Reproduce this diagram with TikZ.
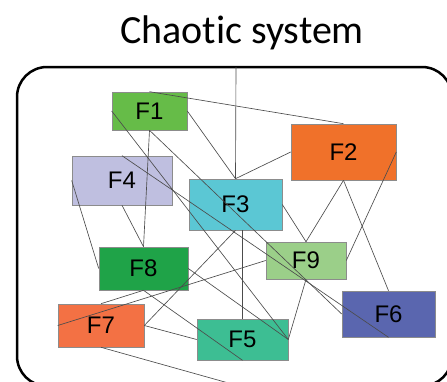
\documentclass[tikz,border=0pt]{standalone}
\usepackage{fontspec}
\setmainfont{Liberation Sans}
\newfontfamily\titlefont[Ligatures=NoCommon]{Carlito}
\definecolor{cF1}{HTML}{66BC48}
\definecolor{cF2}{HTML}{F0712A}
\definecolor{cF3}{HTML}{5BC7D4}
\definecolor{cF4}{HTML}{BFBFE0}
\definecolor{cF5}{HTML}{3DBE93}
\definecolor{cF6}{HTML}{5A66AF}
\definecolor{cF7}{HTML}{F37144}
\definecolor{cF8}{HTML}{1FA348}
\definecolor{cF9}{HTML}{9BCF89}
\begin{document}
\begin{tikzpicture}[x=1pt,y=-1pt,
  box/.style={draw=black!45, line width=0.6pt, inner sep=0pt, font=\fontsize{24}{24}\selectfont},
  link/.style={draw=black!70, line width=0.65pt},
  frame/.style={draw=black, line width=2.5pt, rounded corners=30pt}]
\useasboundingbox (0,0) rectangle (447,381);
\node[font=\titlefont\fontsize{40}{40}\selectfont, anchor=base] (title) at (242,43) {Chaotic system};
\draw[frame] (17,67) rectangle (452,386);
\coordinate (topin) at (236,67);
\coordinate (offbottom) at (232,384);
\node[box, fill=cF1, minimum width=75pt, minimum height=38pt] (F1) at (149.5,111) {F1};
\node[box, fill=cF2, minimum width=105pt, minimum height=56pt] (F2) at (343.5,152) {F2};
\node[box, fill=cF3, minimum width=93pt, minimum height=51pt] (F3) at (235.5,204.5) {F3};
\node[box, fill=cF4, minimum width=100pt, minimum height=49pt] (F4) at (122,180.5) {F4};
\node[box, fill=cF5, minimum width=91pt, minimum height=41pt] (F5) at (242.5,339.5) {F5};
\node[box, fill=cF6, minimum width=93pt, minimum height=46pt] (F6) at (388.5,314) {F6};
\node[box, fill=cF7, minimum width=86pt, minimum height=43pt] (F7) at (101,325.5) {F7};
\node[box, fill=cF8, minimum width=89pt, minimum height=43pt] (F8) at (143.5,268.5) {F8};
\node[box, fill=cF9, minimum width=80pt, minimum height=37pt] (F9) at (306,260.5) {F9};
\draw[link] (topin) -- (F3.north);
\draw[link] (F1.north) -- (F2.north);
\draw[link] (F2.west) -- (F3.north);
\draw[link] (F1.east) -- (F3.north);
\draw[link] (F2.south) -- (F9.north);
\draw[link] (F2.south) -- (F6.north);
\draw[link] (F2.east) -- (F9.east);
\draw[link] (F3.east) -- (F9.north);
\draw[link] (F1.south) -- (F8.north);
\draw[link] (F1.south) -- (F6.west);
\draw[link] (F1.west) -- (F5.east);
\draw[link] (F4.north) -- (F6.south);
\draw[link] (F4.south) -- (F8.north);
\draw[link] (F4.west) -- (F8.west);
\draw[link] (F3.south) -- (F7.east);
\draw[link] (F5.north) -- (F5.north |- F3.south);
\draw[link] (F9.south) -- (F5.east);
\draw[link] (F8.east) -- (F5.east);
\draw[link] (F8.south) -- (F5.south);
\draw[link] (F7.west) -- (F9.west);
\draw[link] (F7.north) -- (F8.south);
\draw[link] (F7.east) -- (F5.west);
\draw[link] (F7.south) -- (offbottom);
\end{tikzpicture}
\end{document}
